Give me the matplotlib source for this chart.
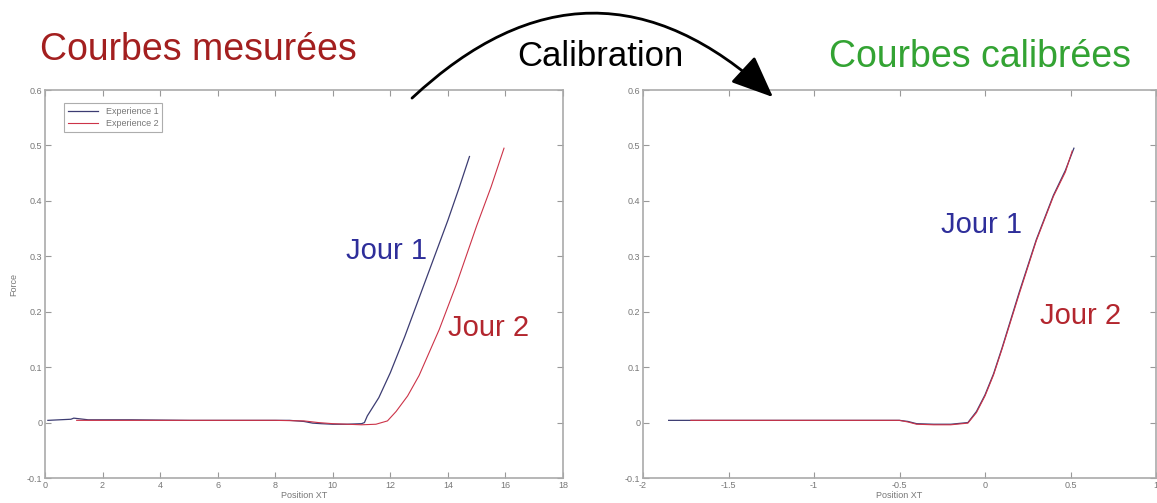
import matplotlib
matplotlib.use("Agg")
import matplotlib.pyplot as plt
from matplotlib.patches import FancyArrowPatch

plt.rcParams['font.family'] = ['Liberation Sans', 'DejaVu Sans']

# courbes mesurees (jour 1 / jour 2)
x_exp1 = [0.1, 0.5, 0.9, 1.0, 1.5, 3, 5, 7, 8.5, 9.0, 9.3, 9.6, 10.0, 10.5, 11.0,
          11.1, 11.2, 11.6, 12.0, 12.5, 13.0, 13.5, 14.0, 14.4, 14.75]
y_exp1 = [0.004, 0.005, 0.006, 0.008, 0.005, 0.005, 0.004, 0.004, 0.004, 0.002,
          -0.001, -0.002, -0.003, -0.003, -0.002, 0.0, 0.012, 0.045, 0.090, 0.155,
          0.225, 0.295, 0.365, 0.425, 0.480]
x_exp2 = [1.1, 2, 4, 6, 8, 9.0, 9.5, 10.0, 10.5, 11.0, 11.5, 11.9, 12.2, 12.6,
          13.0, 13.7, 14.3, 15.0, 15.5, 15.95]
y_exp2 = [0.004, 0.004, 0.004, 0.004, 0.004, 0.003, 0.000, -0.002, -0.003, -0.004,
          -0.003, 0.003, 0.020, 0.048, 0.085, 0.168, 0.250, 0.355, 0.425, 0.495]

# courbes calibrees
x_cal1 = [-1.85, -1.7, -1.5, -1.0, -0.5, -0.45, -0.4, -0.3, -0.2, -0.1, -0.05,
          0.0, 0.05, 0.1, 0.2, 0.3, 0.4, 0.47, 0.52]
y_cal1 = [0.004, 0.004, 0.004, 0.004, 0.004, 0.002, -0.002, -0.003, -0.003, 0.0,
          0.02, 0.05, 0.088, 0.135, 0.235, 0.33, 0.41, 0.455, 0.495]
x_cal2 = [-1.72, -1.5, -1.0, -0.5, -0.45, -0.4, -0.3, -0.2, -0.1, -0.05, 0.0,
          0.05, 0.1, 0.2, 0.3, 0.4, 0.47, 0.51]
y_cal2 = [0.004, 0.004, 0.004, 0.004, 0.001, -0.003, -0.004, -0.004, -0.001,
          0.018, 0.048, 0.086, 0.133, 0.232, 0.328, 0.408, 0.452, 0.49]

yticks = [-0.1, 0, 0.1, 0.2, 0.3, 0.4, 0.5, 0.6]
ytick_labels = ['-0.1', '0', '0.1', '0.2', '0.3', '0.4', '0.5', '0.6']
xticks_left = [0, 2, 4, 6, 8, 10, 12, 14, 16, 18]
xticks_right = [-2, -1.5, -1, -0.5, 0, 0.5, 1]
xtick_labels_right = ['-2', '-1.5', '-1', '-0.5', '0', '0.5', '1']

c_j1 = '#3c3c72'
c_j2 = '#cc3348'
grey = '#aaaaaa'

W, H = 1157, 503
fig = plt.figure(figsize=(W / 100, H / 100), dpi=100)


def px(x0, y0, x1, y1):
    return [x0 / W, 1 - y1 / H, (x1 - x0) / W, (y1 - y0) / H]


def style(ax):
    for s in ax.spines.values():
        s.set_color(grey)
        s.set_linewidth(1.2)
    ax.tick_params(direction='in', length=4, width=0.8, color='#999999',
                   labelsize=6.5, labelcolor='#777777', pad=2,
                   top=True, right=True)
    ax.set_yticks(yticks)
    ax.set_yticklabels(ytick_labels)
    ax.set_ylim(-0.1, 0.6)


ax1 = fig.add_axes(px(45, 90, 563, 478))
ax1.plot(x_exp1, y_exp1, color=c_j1, lw=0.9, label='Experience 1')
ax1.plot(x_exp2, y_exp2, color=c_j2, lw=0.8, label='Experience 2')
style(ax1)
ax1.set_xlim(0, 18)
ax1.set_xticks(xticks_left)
ax1.set_xlabel('Position XT', fontsize=6.5, color='#777777', labelpad=1)
ax1.set_ylabel('Force', fontsize=6.5, color='#777777', labelpad=6)
leg = ax1.legend(loc='upper left', bbox_to_anchor=(0.028, 0.977), fontsize=6.5,
                 frameon=True, fancybox=False, handlelength=3.4,
                 labelspacing=0.35, borderpad=0.4, edgecolor='#999999')
leg.get_frame().set_linewidth(0.8)
for t in leg.get_texts():
    t.set_color('#777777')
ax1.text(11.85, 0.31, 'Jour 1', color='#2e2e9a', fontsize=21,
         ha='center', va='center')
ax1.text(15.43, 0.171, 'Jour 2', color='#b3262e', fontsize=21,
         ha='center', va='center')

ax2 = fig.add_axes(px(643, 90, 1156, 478))
ax2.plot(x_cal1, y_cal1, color=c_j1, lw=0.9)
ax2.plot(x_cal2, y_cal2, color=c_j2, lw=0.8)
style(ax2)
ax2.set_xlim(-2, 1)
ax2.set_xticks(xticks_right)
ax2.set_xticklabels(xtick_labels_right)
ax2.set_xlabel('Position XT', fontsize=6.5, color='#777777', labelpad=1)
ax2.text(-0.023, 0.357, 'Jour 1', color='#2e2e9a', fontsize=21,
         ha='center', va='center')
ax2.text(0.561, 0.193, 'Jour 2', color='#b3262e', fontsize=21,
         ha='center', va='center')

fig.text(198 / W, 1 - 50 / H, 'Courbes mesurées', color='#a31f1f',
         fontsize=27, ha='center', va='center')
fig.text(600 / W, 1 - 57 / H, 'Calibration', color='black',
         fontsize=25, ha='center', va='center')
fig.text(980 / W, 1 - 57 / H, 'Courbes calibrées', color='#33a333',
         fontsize=27, ha='center', va='center')

arrow = FancyArrowPatch((410 / W, 1 - 100 / H), (775 / W, 1 - 99 / H),
                        transform=fig.transFigure,
                        connectionstyle='arc3,rad=-0.47',
                        arrowstyle='-|>,head_length=1.3,head_width=0.55',
                        mutation_scale=20, lw=2, color='black', zorder=5)
fig.patches.append(arrow)

fig.savefig('out.png', dpi=100)
